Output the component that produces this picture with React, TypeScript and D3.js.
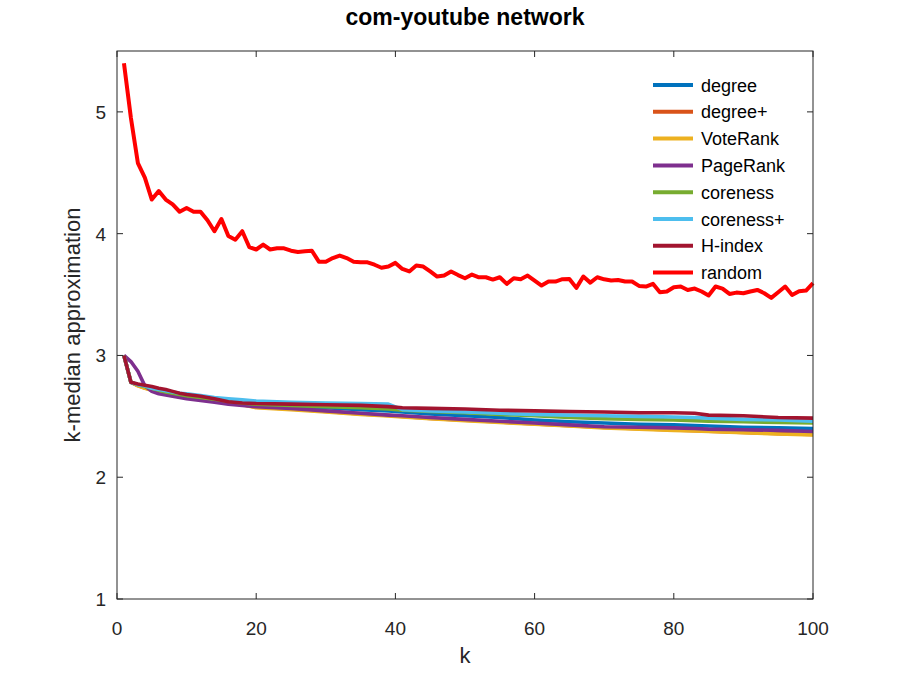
import React from 'react';
import * as d3 from 'd3';

const title = 'com-youtube network';
const xLabel = 'k';
const yLabel = 'k-median approximation';
const xTicks = [0, 20, 40, 60, 80, 100];
const yTicks = [1, 2, 3, 4, 5];

const seriesNames = ['degree', 'degree+', 'VoteRank', 'PageRank', 'coreness', 'coreness+', 'H-index', 'random'];
const seriesColors = ['#0072BD', '#D95319', '#EDB120', '#7E2F8E', '#77AC30', '#4DBEEE', '#A2142F', '#FF0000'];

// k values at which the smooth heuristics are sampled
const kGrid = [1, 2, 3, 4, 5, 6, 7, 8, 9, 10, 12, 14, 16, 18, 20, 25, 30, 35, 39, 41, 45, 50, 55, 60, 65, 70, 75, 80, 83, 85, 90, 95, 100];

const degree = [3.0, 2.78, 2.755, 2.74, 2.725, 2.71, 2.695, 2.685, 2.675, 2.665, 2.65, 2.635, 2.62, 2.605, 2.595, 2.58, 2.57, 2.555, 2.545, 2.535, 2.52, 2.505, 2.49, 2.47, 2.455, 2.445, 2.435, 2.43, 2.425, 2.42, 2.41, 2.405, 2.4];
const degreePlus = [3.0, 2.78, 2.752, 2.733, 2.718, 2.703, 2.688, 2.678, 2.668, 2.658, 2.643, 2.628, 2.613, 2.598, 2.575, 2.56, 2.54, 2.52, 2.508, 2.498, 2.483, 2.468, 2.453, 2.438, 2.423, 2.408, 2.398, 2.388, 2.383, 2.378, 2.368, 2.358, 2.351];
const voteRank = [3.0, 2.78, 2.75, 2.73, 2.715, 2.7, 2.685, 2.675, 2.665, 2.655, 2.64, 2.625, 2.61, 2.595, 2.57, 2.555, 2.535, 2.515, 2.503, 2.494, 2.48, 2.465, 2.45, 2.435, 2.42, 2.405, 2.395, 2.385, 2.38, 2.375, 2.365, 2.355, 2.348];
const pageRank = [3.0, 2.95, 2.87, 2.75, 2.705, 2.685, 2.675, 2.665, 2.655, 2.645, 2.63, 2.615, 2.6, 2.59, 2.58, 2.565, 2.545, 2.525, 2.51, 2.505, 2.49, 2.475, 2.46, 2.445, 2.43, 2.415, 2.41, 2.405, 2.4, 2.395, 2.39, 2.385, 2.375];
const coreness = [3.0, 2.78, 2.76, 2.745, 2.73, 2.715, 2.7, 2.69, 2.68, 2.67, 2.655, 2.64, 2.625, 2.61, 2.6, 2.59, 2.58, 2.57, 2.56, 2.55, 2.54, 2.53, 2.515, 2.505, 2.49, 2.48, 2.475, 2.47, 2.465, 2.46, 2.455, 2.45, 2.445];
const corenessPlus = [3.0, 2.78, 2.76, 2.75, 2.73, 2.72, 2.71, 2.7, 2.69, 2.685, 2.67, 2.655, 2.645, 2.635, 2.625, 2.615, 2.61, 2.605, 2.6, 2.555, 2.545, 2.535, 2.525, 2.515, 2.51, 2.505, 2.5, 2.495, 2.49, 2.485, 2.475, 2.47, 2.46];
const hIndex = [3.0, 2.78, 2.765, 2.755, 2.745, 2.73, 2.72, 2.705, 2.69, 2.68, 2.665, 2.645, 2.62, 2.61, 2.605, 2.6, 2.595, 2.59, 2.58, 2.57, 2.565, 2.56, 2.55, 2.545, 2.54, 2.535, 2.53, 2.53, 2.525, 2.51, 2.505, 2.49, 2.485];

// random baseline, k = 1..100
const kRandom = [
  1, 2, 3, 4, 5, 6, 7, 8, 9, 10, 11, 12, 13, 14, 15, 16, 17, 18, 19, 20,
  21, 22, 23, 24, 25, 26, 27, 28, 29, 30, 31, 32, 33, 34, 35, 36, 37, 38, 39, 40,
  41, 42, 43, 44, 45, 46, 47, 48, 49, 50, 51, 52, 53, 54, 55, 56, 57, 58, 59, 60,
  61, 62, 63, 64, 65, 66, 67, 68, 69, 70, 71, 72, 73, 74, 75, 76, 77, 78, 79, 80,
  81, 82, 83, 84, 85, 86, 87, 88, 89, 90, 91, 92, 93, 94, 95, 96, 97, 98, 99, 100,
];
const random = [
  5.40, 4.95, 4.58, 4.46, 4.28, 4.35, 4.28, 4.24, 4.18, 4.21,
  4.18, 4.18, 4.11, 4.02, 4.12, 3.98, 3.95, 4.02, 3.89, 3.87,
  3.91, 3.87, 3.88, 3.88, 3.86, 3.85, 3.855, 3.86, 3.77, 3.77,
  3.80, 3.82, 3.80, 3.77, 3.765, 3.765, 3.745, 3.72, 3.73, 3.76,
  3.71, 3.69, 3.738, 3.73, 3.69, 3.648, 3.656, 3.689, 3.66, 3.634,
  3.664, 3.642, 3.642, 3.623, 3.642, 3.588, 3.634, 3.626, 3.656, 3.615,
  3.574, 3.607, 3.607, 3.626, 3.628, 3.555, 3.648, 3.598, 3.642, 3.625,
  3.615, 3.62, 3.607, 3.607, 3.571, 3.566, 3.588, 3.519, 3.525, 3.56,
  3.566, 3.538, 3.549, 3.525, 3.492, 3.566, 3.549, 3.505, 3.516, 3.511,
  3.525, 3.538, 3.511, 3.473, 3.519, 3.566, 3.497, 3.527, 3.533, 3.593,
];

const seriesX = [kGrid, kGrid, kGrid, kGrid, kGrid, kGrid, kGrid, kRandom];
const seriesY = [degree, degreePlus, voteRank, pageRank, coreness, corenessPlus, hIndex, random];

const W = 898;
const H = 674;
const left = 117;
const right = 813;
const top = 51;
const bottom = 599;
const FONT = '"Liberation Sans", Arial, Helvetica, sans-serif';
const AX = '#262626';

export default function App() {
  const x = d3.scaleLinear().domain([0, 100]).range([left, right]);
  const y = d3.scaleLinear().domain([1, 5.5]).range([bottom, top]);
  const line = (xs: number[], ys: number[]) =>
    d3.line<number>().x((_, i) => x(xs[i])).y((d) => y(d))(ys) || '';
  const tl = 6;

  return (
    <div style={{ position: 'fixed', left: 0, top: 0 }}>
      <svg width={W} height={H} style={{ display: 'block', background: '#fff' }}>
        <rect x={0} y={0} width={W} height={H} fill="#fff" />
        {/* series */}
        <g fill="none" strokeLinejoin="round" strokeLinecap="butt">
          {seriesY.map((ys, i) => (
            <path key={seriesNames[i]} d={line(seriesX[i], ys)} stroke={seriesColors[i]} strokeWidth={i === 7 ? 4 : 3.6} />
          ))}
        </g>
        {/* box */}
        <rect x={left} y={top} width={right - left} height={bottom - top} fill="none" stroke={AX} strokeWidth={1} />
        {/* x ticks */}
        {xTicks.map((t) => (
          <g key={'x' + t}>
            <line x1={x(t)} x2={x(t)} y1={bottom} y2={bottom - tl} stroke={AX} />
            <line x1={x(t)} x2={x(t)} y1={top} y2={top + tl} stroke={AX} />
            <text x={x(t)} y={635} textAnchor="middle" fontFamily={FONT} fontSize={19} fill={AX}>{t}</text>
          </g>
        ))}
        {yTicks.map((t) => (
          <g key={'y' + t}>
            <line x1={left} x2={left + tl} y1={y(t)} y2={y(t)} stroke={AX} />
            <line x1={right} x2={right - tl} y1={y(t)} y2={y(t)} stroke={AX} />
            <text x={106} y={y(t) + 7} textAnchor="end" fontFamily={FONT} fontSize={19} fill={AX}>{t}</text>
          </g>
        ))}
        {/* labels */}
        <text x={(left + right) / 2} y={25} textAnchor="middle" fontFamily={FONT} fontSize={23} fontWeight="bold" fill="#000">{title}</text>
        <text x={(left + right) / 2} y={663} textAnchor="middle" fontFamily={FONT} fontSize={22} fill={AX}>{xLabel}</text>
        <text transform={`translate(80, ${(top + bottom) / 2}) rotate(-90)`} textAnchor="middle" fontFamily={FONT} fontSize={22} fill={AX}>{yLabel}</text>
        {/* legend */}
        {seriesNames.map((n, i) => {
          const ly = 85 + i * 26.8;
          return (
            <g key={'lg' + n}>
              <line x1={653} x2={693} y1={ly} y2={ly} stroke={seriesColors[i]} strokeWidth={4} />
              <text x={701} y={ly + 6.5} fontFamily={FONT} fontSize={18} fill="#000">{n}</text>
            </g>
          );
        })}
      </svg>
    </div>
  );
}
